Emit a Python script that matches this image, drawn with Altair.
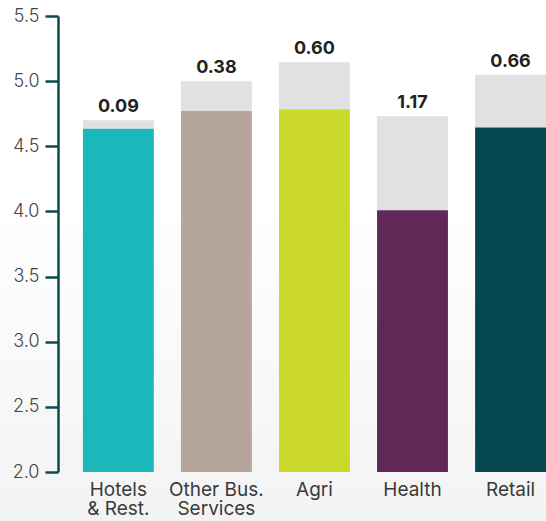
import altair as alt
import pandas as pd

# Sectors (use "|" to break the axis label into lines)
sectors = ["Hotels|& Rest.", "Other Bus.|Services", "Agri", "Health", "Retail"]
base_values = [4.635, 4.77, 4.785, 4.01, 4.645]
total_values = [4.70, 5.00, 5.145, 4.73, 5.05]
gap_labels = ["0.09", "0.38", "0.60", "1.17", "0.66"]
bar_colors = ["#1ab8bb", "#b5a59a", "#cbd92b", "#5f2856", "#04474f"]
axis_floor = 2.0

df = pd.DataFrame({
    "sector": sectors,
    "base": base_values,
    "total": total_values,
    "label": gap_labels,
})

W, H = 488, 456
teal = "#0b4a51"

x_enc = alt.X(
    "sector:N",
    sort=sectors,
    scale=alt.Scale(paddingInner=0.277, paddingOuter=0.127, align=1),
    axis=alt.Axis(
        title=None,
        domain=False,
        ticks=False,
        zindex=1,
        labelExpr="split(datum.label, '|')",
        labelFont="Inter",
        labelFontWeight=400,
        labelFontSize=19,
        labelColor="#3a3a3a",
        labelPadding=8,
        labelLineHeight=19,
        labelAngle=0,
        labelBaseline="top",
    ),
)

y_scale = alt.Scale(domain=[2.0, 5.5], zero=False, nice=False)

# soft white-to-grey backdrop behind everything
backdrop = alt.Chart(pd.DataFrame({"k": [0]})).mark_rect(
    clip=False,
    color=alt.Gradient(
        gradient="linear",
        stops=[
            alt.GradientStop(color="#ffffff", offset=0),
            alt.GradientStop(color="#ffffff", offset=0.38),
            alt.GradientStop(color="#f3f3f3", offset=1),
        ],
        x1=0, x2=0, y1=0, y2=1,
    ),
).encode(
    x=alt.value(-58), x2=alt.value(W + 10),
    y=alt.value(-16), y2=alt.value(521 - 16),
)

gap_bars = alt.Chart(df).mark_bar(color="#e0e1e3").encode(
    x=x_enc,
    y=alt.Y("total:Q", scale=y_scale, axis=alt.Axis(
        title=None,
        values=[2.0, 2.5, 3.0, 3.5, 4.0, 4.5, 5.0, 5.5],
        format=".1f",
        grid=False,
        zindex=1,
        domain=True,
        domainColor=teal,
        domainWidth=2.5,
        tickColor=teal,
        tickWidth=2.5,
        tickSize=13,
        labelPadding=6,
        labelFont="Inter",
        labelFontWeight=300,
        labelFontSize=18,
        labelColor="#444444",
    )),
    y2="base:Q",
)

base_bars = alt.Chart(df).mark_bar().encode(
    x=x_enc,
    y=alt.Y("base:Q", scale=y_scale),
    y2=alt.Y2(datum=axis_floor),
    color=alt.Color("sector:N", scale=alt.Scale(domain=sectors, range=bar_colors), legend=None),
)

labels = alt.Chart(df).mark_text(
    dy=-13, font="Inter", fontWeight="bold", fontSize=18, color="#231f20",
).encode(
    x=x_enc,
    y=alt.Y("total:Q", scale=y_scale),
    text="label:N",
)

chart = alt.layer(backdrop, gap_bars, base_bars, labels).properties(
    width=W,
    height=H,
    padding={"left": 58, "top": 16, "right": 0, "bottom": 49},
    autosize=alt.AutoSizeParams(type="none"),
).configure_view(stroke=None).configure(background="#ffffff")

chart.save("out.html", embed_options={"renderer": "svg", "actions": False})
